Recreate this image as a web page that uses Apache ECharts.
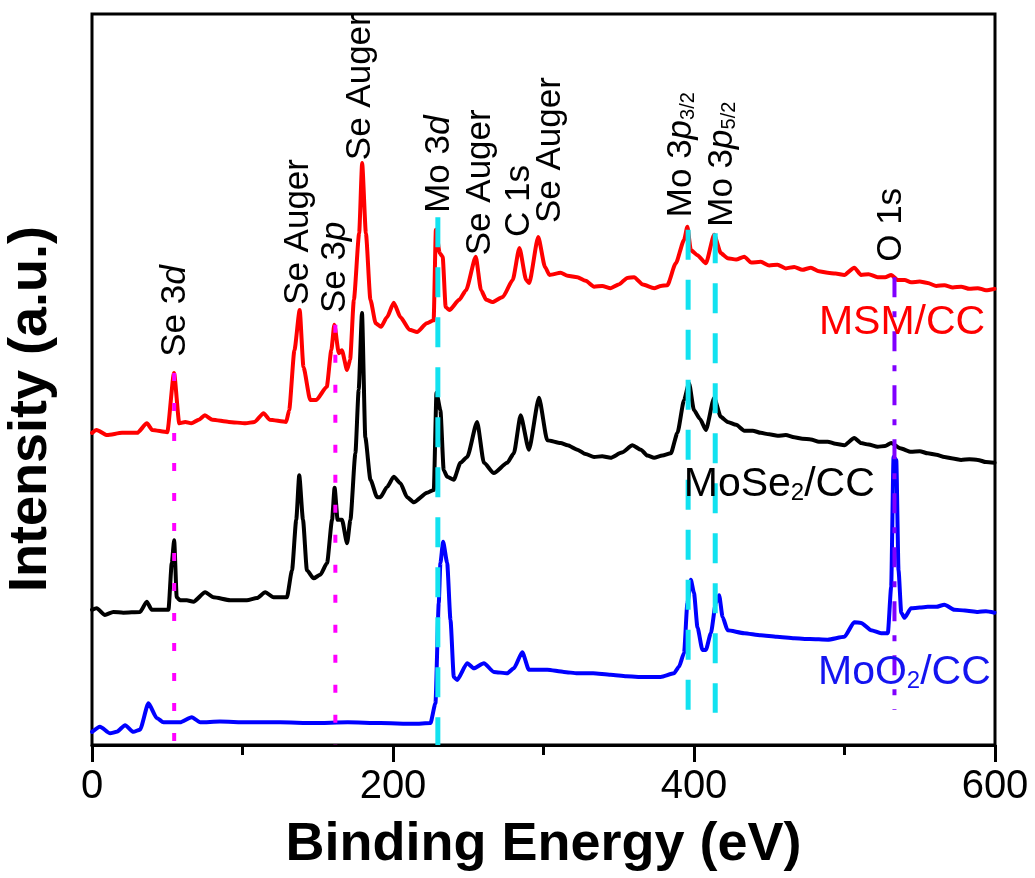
<!DOCTYPE html>
<html>
<head>
<meta charset="utf-8">
<script src="https://cdn.jsdelivr.net/npm/echarts@6/dist/echarts.min.js"></script>
<style>html,body{margin:0;padding:0;background:#fff}#c{width:1035px;height:878px}</style>
</head>
<body>
<div id="c"></div>
<script>
// ---- Data (binding energy in eV, intensity in arbitrary units, curves offset as in the figure) ----
const msmCC = [
[0,42.7],[3,43.1],[10,42.4],[20,42.7],[30,42.7],[36.5,44.0],[40,43.1],[50,42.8],[54.5,50.9],[58,44.0],[62,44.2],[66,44.0],[71,44.5],[75,45.1],[80,44.5],[91,44.2],[102,44.0],[108,44.2],[114,45.4],[118,44.5],[129,44.2],[131,45.8],[134.5,54.0],[138,59.5],[140.5,51.7],[145,47.2],[149,47.2],[156,49.0],[159,54.0],[161,57.5],[164,53.6],[166,54.0],[169.5,51.3],[171.5,52.7],[174,60.9],[177.5,70.0],[179.5,79.6],[182,70.0],[185,60.9],[188.5,57.7],[192,57.2],[196,58.5],[200.5,60.5],[205,58.5],[211,56.8],[216,56.5],[222.5,57.7],[227,58.1],[228.5,70.5],[231,67.3],[233,66.8],[235,59.9],[237.5,59.5],[244,60.9],[248.5,62.2],[255,66.8],[258.5,62.2],[262,60.9],[266,60.6],[273,61.3],[279.5,63.6],[284,68.0],[288.5,63.6],[290.5,63.2],[296.5,69.5],[301,65.4],[304,64.3],[311.4,64.6],[316,64.2],[322.5,64.0],[328,63.5],[333.6,62.7],[339,62.8],[344.6,62.5],[350,63.0],[355.7,63.9],[360.2,64.0],[366,63.0],[373.5,62.5],[378,62.8],[382.3,62.9],[387.9,65.9],[393.4,69.1],[395.6,70.9],[397.9,67.7],[402.3,67.0],[407.9,65.9],[413.4,69.8],[417.8,67.3],[422.3,66.6],[428,66.4],[433.4,66.8],[438,66.0],[444.4,66.1],[450,65.6],[455.5,65.7],[461,65.2],[466.6,65.4],[472,65.0],[477.7,65.3],[483,64.8],[488.8,64.6],[494,64.5],[499.9,64.3],[506.5,65.3],[511,64.3],[516,64.4],[522,64.0],[527,64.0],[531,64.3],[535.4,63.6],[540,63.6],[544.2,63.3],[550,63.4],[555.3,63.2],[561,62.8],[566.4,62.9],[572,62.6],[577.5,62.7],[583,62.4],[588.6,62.5],[594,62.2],[599.7,62.4]
];
const mose2CC = [
[0,18.5],[3.1,18.7],[8.6,17.8],[14.2,18.2],[20.8,18.1],[31.9,18.2],[36.4,19.6],[39.7,18.5],[50.8,18.5],[53,24.9],[54.6,28.0],[56.3,20.2],[58.5,19.8],[63,19.8],[67.4,19.6],[75.2,20.9],[80.7,20.2],[91.8,19.8],[102.9,19.8],[109.6,20.1],[115.1,20.9],[120.6,20.2],[129.5,20.2],[132.9,23.9],[135.7,30.8],[137.7,36.9],[140.2,30.8],[142.8,23.9],[147.3,22.8],[151.7,23.3],[156.2,24.9],[159.5,30.8],[161.2,35.2],[163.2,30.8],[166.1,30.8],[169.5,27.6],[171.7,30.8],[175,39.9],[177.2,48.6],[179.4,59.1],[181.6,42.1],[185,36.3],[189.4,33.9],[191.6,33.9],[196.1,35.3],[200.5,36.7],[204.9,35.8],[209.4,33.9],[213.8,33.2],[222.7,34.5],[227.1,34.9],[228.9,48.2],[231.5,45.8],[233.7,37.6],[236,36.7],[240.4,36.3],[244.8,38.6],[249.3,39.4],[255.9,44.2],[260.4,38.6],[267,37.2],[275.9,38.6],[280.3,39.9],[284.8,45.1],[290.3,40.4],[297,47.5],[302.5,41.7],[311.4,41.3],[316,41.0],[322.5,40.4],[328,39.8],[333.6,39.4],[339,39.5],[344.6,39.3],[352,40.0],[359.1,41.0],[364.7,40.4],[369,39.6],[373.5,39.3],[379,39.6],[384.6,39.9],[389,42.7],[393.4,47.2],[396.7,49.5],[400,45.8],[404,44.6],[407.9,43.1],[413.4,47.5],[417.8,44.9],[422.3,44.2],[428,43.8],[433.4,43.0],[439,43.0],[444.4,42.7],[450,42.5],[455.5,42.3],[461,42.4],[466.6,42.1],[472,41.9],[477.7,41.8],[483,41.5],[488.8,41.5],[494,41.2],[499.9,41.0],[506.5,42.0],[511,41.3],[516,41.1],[522,40.8],[527,40.9],[531,41.3],[537,40.6],[544.2,40.1],[550,40.2],[555.3,39.9],[561,39.7],[566.4,39.4],[572,39.2],[577.5,39.0],[583,39.1],[588.6,39.0],[594,38.7],[599.7,38.6]
];
const moo2CC = [
[0,1.8],[5.3,2.5],[12,1.6],[16.4,1.8],[22,2.7],[27.5,1.8],[31.9,2.1],[37.5,5.7],[43,3.7],[47.5,3.1],[58.5,3.1],[66.3,3.8],[71.9,3.1],[85,3.2],[102.9,3.1],[125,3.1],[147.3,3.0],[170,3.1],[191.6,3.0],[213.8,2.9],[224.9,3.0],[228.2,5.7],[230.4,19.4],[231.5,24.9],[233.3,27.8],[236,24.9],[238.2,17.1],[240.4,9.3],[242.6,8.9],[249.3,11.2],[253.7,10.5],[260.4,11.2],[267,10.0],[275.9,9.8],[280.3,10.5],[285.9,12.7],[290.3,10.3],[302.5,10.3],[313.6,10.0],[322.5,9.8],[333,9.8],[344.6,9.6],[355,9.4],[366.8,9.3],[377.9,9.3],[386.7,9.8],[390,10.7],[393.4,12.6],[395.6,19.4],[397.9,22.6],[400,20.8],[402.3,16.1],[405.6,13.0],[407.9,13.0],[411.2,15.3],[414.5,19.4],[416.7,20.5],[419,17.5],[422.3,15.7],[433.4,15.3],[444.4,15.0],[455,14.8],[466.6,14.6],[477,14.5],[488.8,14.4],[499.9,14.8],[506.5,16.8],[511,16.7],[517.7,15.7],[524.3,15.3],[528.8,15.3],[531,21.6],[532.6,39.4],[534.4,39.0],[535.9,23.9],[537.7,18.1],[539.9,17.4],[544.2,18.7],[550,18.8],[555.3,18.9],[561,18.9],[566.4,19.2],[573.1,18.5],[580,18.4],[588.6,18.2],[594,18.3],[599.7,18.1]
];

// Reference lines: energy, top, bottom (a.u.)
const seLinesE = [54.6, 161.7];
const seLinesTop = [50.9, 57.5];
const seLinesBottom = [0, 0];
const moLinesE = [229.8, 396.1, 414.1];
const moLinesTop = [72.2, 70.5, 70.0];
const moLinesBottom = [0, 4.4, 4.4];
const oLineE = [533.2];
const oLineTop = [64.0];
const oLineBottom = [4.8];

// Peak annotations (rotated): text, energy, intensity at text start
const peakLabels = ['Se 3d', 'Se Auger', 'Se 3p', 'Se Auger', 'Mo 3d', 'Se Auger', 'C 1s', 'Se Auger', 'Mo 3p3/2', 'Mo 3p5/2', 'O 1s'];
const peakLabelE = [55.2, 137.4, 161.7, 178.6, 230.5, 257.8, 283.8, 304.4, 391.6, 418.8, 531.3];
const peakLabelI = [53.1, 60.2, 59.1, 80.0, 72.8, 67.0, 69.5, 71.4, 72.2, 70.9, 66.1];

// Sample names
const sampleNames = ['MSM/CC', 'MoSe2/CC', 'MoO2/CC'];
const sampleLabelE = [483, 393.2, 482.4];
const sampleLabelI = [57.8, 35.6, 9.85];
const sampleColors = ['#FF0000', '#000000', '#1414F0'];

const xTicks = [0, 200, 400, 600];

// ---- Chart ----
const FONT = "'Liberation Sans', Arial, Helvetica, sans-serif";
const chart = echarts.init(document.getElementById('c'), null, {renderer: 'canvas'});

function vline(E, top, bottom, color, dash, width) {
  return {
    type: 'line', data: [[E, top], [E, bottom]], showSymbol: false, symbol: 'none',
    silent: true, z: 5, animation: false,
    lineStyle: {color: color, width: width, type: dash, cap: 'butt'}
  };
}

function peakRich(t) {
  const m = t.match(/^(.*\d)([dp])(\d\/\d)?$/);
  if (!m) return '{n|' + t + '}';
  return '{n|' + m[1] + '}{i|' + m[2] + '}' + (m[3] ? '{s|' + m[3] + '}' : '');
}
function sampleRich(t, key) {
  const m = t.match(/^(.*?)(2)(\/CC)$/);
  if (!m) return '{' + key + '|' + t + '}';
  return '{' + key + '|' + m[1] + '}{' + key + 's|2}{' + key + '|' + m[3] + '}';
}

const curveStyle = {width: 4, join: 'round', cap: 'round'};
const series = [
  {name: 'MSM/CC', type: 'line', data: msmCC, showSymbol: false, symbol: 'none', z: 3,
   smooth: 0.2, smoothMonotone: 'x', lineStyle: Object.assign({color: '#FF0000'}, curveStyle)},
  {name: 'MoSe2/CC', type: 'line', data: mose2CC, showSymbol: false, symbol: 'none', z: 3,
   smooth: 0.2, smoothMonotone: 'x', lineStyle: Object.assign({color: '#000000'}, curveStyle)},
  {name: 'MoO2/CC', type: 'line', data: moo2CC, showSymbol: false, symbol: 'none', z: 3,
   smooth: 0.2, smoothMonotone: 'x', lineStyle: Object.assign({color: '#0000FF'}, curveStyle)}
];
seLinesE.forEach((E, i) => series.push(vline(E, seLinesTop[i], seLinesBottom[i], '#FF00FF', [8, 22], 4)));
moLinesE.forEach((E, i) => series.push(vline(E, moLinesTop[i], moLinesBottom[i], '#12E2F0', [30, 20], 5)));
oLineE.forEach((E, i) => series.push(vline(E, oLineTop[i], oLineBottom[i], '#8000FF', [20, 14, 6, 14], 4)));

series.push({
  type: 'scatter', silent: true, z: 10, symbolSize: 0, itemStyle: {color: '#000', opacity: 0},
  data: peakLabels.map((t, i) => ({value: [peakLabelE[i], peakLabelI[i]], name: t})),
  label: {
    show: true, position: [0, 0], rotate: 90, align: 'left', verticalAlign: 'middle',
    color: '#000', opacity: 1, textBorderWidth: 0, fontFamily: FONT, fontSize: 35,
    formatter: p => peakRich(p.name),
    rich: {
      n: {fontFamily: FONT, fontSize: 35, color: '#000'},
      i: {fontFamily: FONT, fontSize: 35, color: '#000', fontStyle: 'italic'},
      s: {fontFamily: FONT, fontSize: 20, color: '#000', lineHeight: 2, verticalAlign: 'bottom'}
    }
  }
});

series.push({
  type: 'scatter', silent: true, z: 10, symbolSize: 0, itemStyle: {color: '#000', opacity: 0},
  data: sampleNames.map((t, i) => ({value: [sampleLabelE[i], sampleLabelI[i]], name: t})),
  label: {
    show: true, position: [0, 0], align: 'left', verticalAlign: 'middle',
    opacity: 1, textBorderWidth: 0, fontFamily: FONT, fontSize: 41,
    formatter: p => sampleRich(p.name, 'c' + p.dataIndex),
    rich: (function () {
      const r = {};
      sampleColors.forEach((c, k) => {
        r['c' + k] = {fontFamily: FONT, fontSize: 41, color: c};
        r['c' + k + 's'] = {fontFamily: FONT, fontSize: 24, color: c, lineHeight: 2, verticalAlign: 'bottom'};
      });
      return r;
    })()
  }
});

chart.setOption({
  animation: false,
  backgroundColor: '#ffffff',
  grid: {left: 92, right: 40, top: 14, bottom: 133, show: true, borderColor: '#000', borderWidth: 3,
         backgroundColor: 'transparent', outerBoundsMode: 'none', containLabel: false},
  xAxis: {
    type: 'value', min: xTicks[0], max: xTicks[xTicks.length - 1], interval: xTicks[1] - xTicks[0],
    axisLine: {show: true, lineStyle: {color: '#000', width: 3}},
    axisTick: {show: true, length: 17, lineStyle: {color: '#000', width: 3}},
    minorTick: {show: true, splitNumber: 2, length: 10, lineStyle: {color: '#000', width: 3}},
    splitLine: {show: false},
    axisLabel: {show: true, margin: 22, color: '#000', fontFamily: FONT, fontSize: 40},
    name: 'Binding Energy (eV)', nameLocation: 'middle', nameGap: 73,
    nameTextStyle: {fontFamily: FONT, fontSize: 54, fontWeight: 'bold', color: '#000'}
  },
  yAxis: {
    type: 'value', min: 0, max: 100,
    axisLine: {show: false}, axisTick: {show: false}, axisLabel: {show: false}, splitLine: {show: false}
  },
  graphic: [{
    type: 'text', x: 31, y: 409, rotation: Math.PI / 2, silent: true,
    style: {text: 'Intensity (a.u.)', fontFamily: FONT, fontSize: 54, fontWeight: 'bold',
            fill: '#000', align: 'center', verticalAlign: 'middle'}
  }],
  series: series
});
</script>
</body>
</html>
